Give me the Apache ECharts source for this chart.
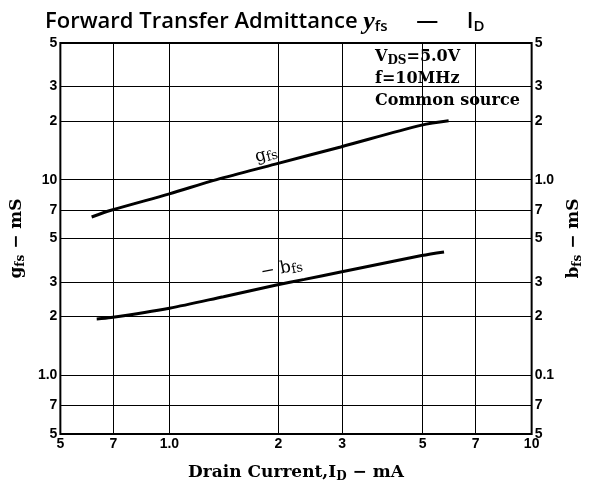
<!DOCTYPE html>
<html><head><meta charset="utf-8">
<script src="https://cdn.jsdelivr.net/npm/echarts@6/dist/echarts.min.js"></script>
<style>html,body{margin:0;padding:0;background:#fff}#c{width:592px;height:488px}</style>
</head><body><div id="c"></div>
<script>
// ---- data ----
const xTicks = [0.5, 0.7, 1, 2, 3, 5, 7, 10];
const xTickLabels = ["5", "7", "1.0", "2", "3", "5", "7", "10"];
const gTicks = [0.5, 0.7, 1, 2, 3, 5, 7, 10, 20, 30, 50];
const gTickLabels = ["5", "7", "1.0", "2", "3", "5", "7", "10", "2", "3", "5"];
const bTicks = [0.05, 0.07, 0.1, 0.2, 0.3, 0.5, 0.7, 1, 2, 3, 5];
const bTickLabels = ["5", "7", "0.1", "2", "3", "5", "7", "1.0", "2", "3", "5"];
const gfsI = [0.61, 0.69, 1.0, 1.35, 1.96, 2.97, 4.97, 5.9];
const gfsV = [6.44, 6.97, 8.46, 10.0, 12.0, 14.7, 19.0, 20.0];
const bfsI = [0.63, 0.69, 1.0, 1.41, 1.96, 2.36, 2.97, 4.97, 5.73];
const bfsV = [0.194, 0.197, 0.22, 0.252, 0.288, 0.309, 0.337, 0.409, 0.427];
const gfsLabelAt = [1.85, 13.4];
const bfsLabelAt = [2.04, 0.35];

function fmt(ticks, labels) {
  return function (v) {
    let best = 0, bd = Infinity;
    ticks.forEach((t, i) => { const d = Math.abs(Math.log(t) - Math.log(v)); if (d < bd) { bd = d; best = i; } });
    return labels[best];
  };
}
const tickFont = { fontFamily: 'Liberation Sans', fontWeight: 'bold', fontSize: 14, color: '#000' };
const serif = 'DejaVu Serif';
const nameRich = {
  a: { fontFamily: serif, fontWeight: 'bold', fontSize: 17, color: '#000' },
  s: { fontFamily: serif, fontWeight: 'bold', fontSize: 12, color: '#000', padding: [9, 0, 0, 0] }
};

const chart = echarts.init(document.getElementById('c'));
chart.setOption({
  animation: false,
  backgroundColor: '#fff',
  title: {
    text: '{a|Forward Transfer Admittance }{y|y}{s|fs}{a|     —     I}{s|D}',
    left: 40, top: 4,
    textStyle: {
      rich: {
        a: { fontFamily: 'Open Sans', fontSize: 22, color: '#000', fontWeight: 600 },
        y: { fontFamily: 'Liberation Serif', fontStyle: 'italic', fontSize: 26, color: '#000' },
        s: { fontFamily: 'Open Sans', fontSize: 15, color: '#000', fontWeight: 600, padding: [10, 0, 0, 0] }
      }
    }
  },
  grid: { left: 57, right: 50, top: 43, bottom: 50, show: true, borderColor: '#000', borderWidth: 2 },
  xAxis: {
    type: 'log', min: 0.5, max: 10,
    axisLine: { show: false },
    axisTick: { show: false, customValues: xTicks },
    axisLabel: Object.assign({ customValues: xTicks, formatter: fmt(xTicks, xTickLabels), margin: 3 }, tickFont),
    splitLine: { show: true, lineStyle: { color: '#000', width: 1 } },
    name: '{a|Drain Current,I}{s|D}{a| − mA}',
    nameLocation: 'middle', nameGap: 28,
    nameTextStyle: { rich: nameRich }
  },
  yAxis: [{
    type: 'log', min: 0.5, max: 50,
    axisLine: { show: false },
    axisTick: { show: false, customValues: gTicks },
    axisLabel: Object.assign({ customValues: gTicks, formatter: fmt(gTicks, gTickLabels), margin: 3 }, tickFont),
    splitLine: { show: true, lineStyle: { color: '#000', width: 1 } },
    name: '{a|g}{s|fs}{a| − mS}',
    nameLocation: 'middle', nameGap: 30, nameRotate: 90,
    nameTextStyle: { rich: nameRich }
  }, {
    type: 'log', min: 0.05, max: 5, position: 'right',
    axisLine: { show: false },
    axisTick: { show: false, customValues: bTicks },
    axisLabel: Object.assign({ customValues: bTicks, formatter: fmt(bTicks, bTickLabels), margin: 3 }, tickFont),
    splitLine: { show: false },
    name: '{a|b}{s|fs}{a| − mS}',
    nameLocation: 'middle', nameGap: 30, nameRotate: 90,
    nameTextStyle: { rich: nameRich }
  }],
  series: [{
    name: 'gfs', type: 'line', yAxisIndex: 0, smooth: 0.3, showSymbol: false,
    lineStyle: { color: '#000', width: 3 }, z: 5,
    data: gfsI.map((x, i) => [x, gfsV[i]])
  }, {
    name: 'bfs', type: 'line', yAxisIndex: 1, smooth: 0.3, showSymbol: false,
    lineStyle: { color: '#000', width: 3 }, z: 5,
    data: bfsI.map((x, i) => [x, bfsV[i]])
  }]
});

const pg = chart.convertToPixel({ xAxisIndex: 0, yAxisIndex: 0 }, gfsLabelAt);
const pb = chart.convertToPixel({ xAxisIndex: 0, yAxisIndex: 1 }, bfsLabelAt);
chart.setOption({
  graphic: [
    { type: 'rect', z: -1, shape: { x: 352, y: 44, width: 188, height: 73 }, style: { fill: '#fff' } },
    { type: 'text', z: 11, left: 375, top: 47, style: {
        text: '{a|V}{s|DS}{a|=5.0V}\n{a|f=10MHz}\n{a|Common source}',
        rich: {
          a: { fontFamily: serif, fontWeight: 'bold', fontSize: 16, fill: '#000', lineHeight: 22 },
          s: { fontFamily: serif, fontWeight: 'bold', fontSize: 12, fill: '#000', padding: [8, 0, 0, 0], lineHeight: 22 }
        }
    } },
    { type: 'text', z: 11, x: pg[0], y: pg[1], rotation: 0.26, style: {
        text: '{a|g}{s|fs}', align: 'center', verticalAlign: 'middle',
        rich: {
          a: { fontFamily: serif, fontSize: 17, fill: '#000' },
          s: { fontFamily: serif, fontSize: 13, fill: '#000', padding: [6, 0, 0, 0] }
        }
    } },
    { type: 'text', z: 11, x: pb[0], y: pb[1], rotation: 0.2, style: {
        text: '{a|− b}{s|fs}', align: 'center', verticalAlign: 'middle',
        rich: {
          a: { fontFamily: serif, fontSize: 17, fill: '#000' },
          s: { fontFamily: serif, fontSize: 13, fill: '#000', padding: [6, 0, 0, 0] }
        }
    } }
  ]
});
</script>
</body></html>
